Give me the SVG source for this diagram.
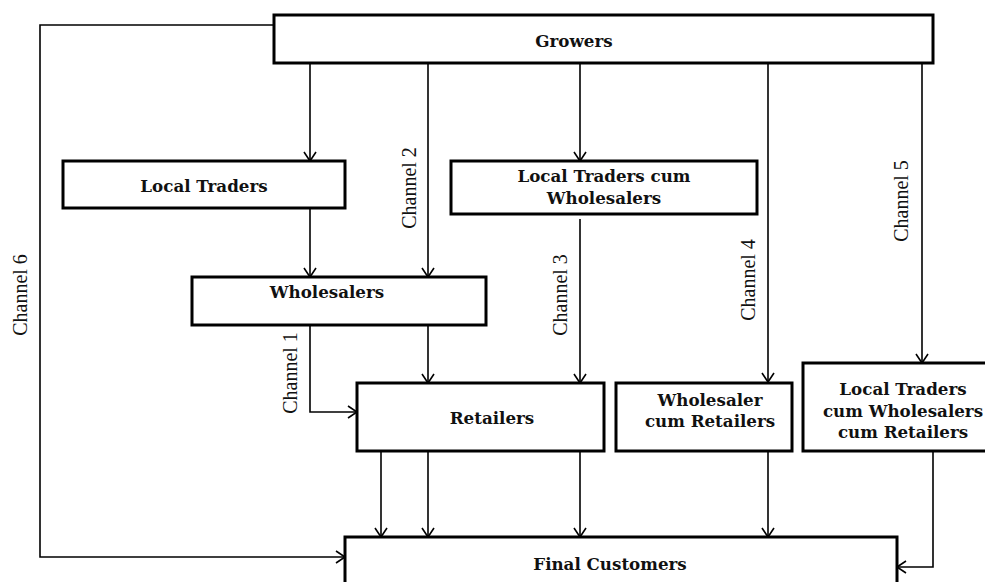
<svg xmlns="http://www.w3.org/2000/svg" width="985" height="582" viewBox="0 0 985 582">
<style>
.box{fill:#fff;stroke:#000;stroke-width:3}
.lbl{font-family:"DejaVu Serif","Liberation Serif",serif;font-weight:bold;font-size:16.7px;text-anchor:middle;fill:#111}
.ch{font-family:"Liberation Serif","DejaVu Serif",serif;font-size:20px;text-anchor:middle;fill:#111}
.con{fill:none;stroke:#000;stroke-width:1.6}
</style>
<defs>
<marker id="arr" markerUnits="userSpaceOnUse" markerWidth="20" markerHeight="20" refX="0" refY="0" viewBox="-12 -10 14 20" orient="auto">
<path d="M-9,-6 L0,0 L-9,6" fill="none" stroke="#000" stroke-width="1.6"/>
</marker>
</defs>
<rect width="985" height="582" fill="#fff"/>
<g id="connectors">
<path class="con" d="M274,25 H40 V557 H345" marker-end="url(#arr)"/>
<path class="con" d="M310,63 V161" marker-end="url(#arr)"/>
<path class="con" d="M428,63 V277" marker-end="url(#arr)"/>
<path class="con" d="M580,63 V161" marker-end="url(#arr)"/>
<path class="con" d="M768,63 V382" marker-end="url(#arr)"/>
<path class="con" d="M922,63 V363" marker-end="url(#arr)"/>
<path class="con" d="M310,208 V277" marker-end="url(#arr)"/>
<path class="con" d="M310,325 V412 H357" marker-end="url(#arr)"/>
<path class="con" d="M428,325 V383" marker-end="url(#arr)"/>
<path class="con" d="M580,219 V383" marker-end="url(#arr)"/>
<path class="con" d="M381,451 V537" marker-end="url(#arr)"/>
<path class="con" d="M428,451 V537" marker-end="url(#arr)"/>
<path class="con" d="M580,451 V537" marker-end="url(#arr)"/>
<path class="con" d="M768,451 V537" marker-end="url(#arr)"/>
<path class="con" d="M933,451 V567 H897" marker-end="url(#arr)"/>
<text class="ch" transform="translate(27,295) rotate(-90)">Channel 6</text>
<text class="ch" transform="translate(416,188) rotate(-90)">Channel 2</text>
<text class="ch" transform="translate(297,373) rotate(-90)">Channel 1</text>
<text class="ch" transform="translate(567,295) rotate(-90)">Channel 3</text>
<text class="ch" transform="translate(755,280) rotate(-90)">Channel 4</text>
<text class="ch" transform="translate(908,201) rotate(-90)">Channel 5</text>
</g>
<g id="growers"><rect class="box" x="274" y="15" width="659" height="48"/><text class="lbl" x="574" y="47">Growers</text></g>
<g id="local-traders"><rect class="box" x="63" y="161" width="282" height="47"/><text class="lbl" x="204" y="192">Local Traders</text></g>
<g id="lt-cum-wholesalers"><rect class="box" x="451" y="161" width="306" height="53"/><text class="lbl" x="604" y="182">Local Traders cum</text><text class="lbl" x="604" y="204">Wholesalers</text></g>
<g id="wholesalers"><rect class="box" x="192" y="277" width="294" height="48"/><text class="lbl" x="327" y="298">Wholesalers</text></g>
<g id="retailers"><rect class="box" x="357" y="383" width="247" height="68"/><text class="lbl" x="492" y="424">Retailers</text></g>
<g id="wholesaler-cum-retailers"><rect class="box" x="616" y="383" width="176" height="68"/><text class="lbl" x="710" y="406">Wholesaler</text><text class="lbl" x="710" y="427">cum Retailers</text></g>
<g id="lt-cum-w-cum-r"><rect class="box" x="803" y="363" width="200" height="88"/><text class="lbl" x="903" y="395">Local Traders</text><text class="lbl" x="903" y="417">cum Wholesalers</text><text class="lbl" x="903" y="438">cum Retailers</text></g>
<g id="final-customers"><rect class="box" x="345" y="537" width="552" height="60"/><text class="lbl" x="610" y="570">Final Customers</text></g>
</svg>
